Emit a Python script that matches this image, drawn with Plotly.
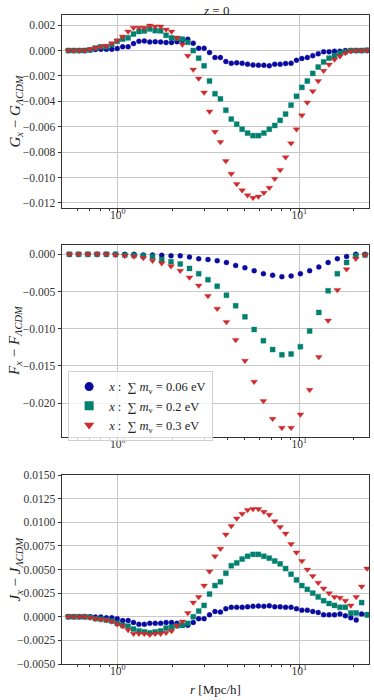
import plotly.graph_objects as go
from plotly.subplots import make_subplots

# radial bins [Mpc/h] for G and J (fine) and for F (coarse)
r_fine = [0.535, 0.573, 0.614, 0.657, 0.704, 0.754, 0.808, 0.866, 0.928, 0.994,
          1.065, 1.141, 1.222, 1.309, 1.402, 1.502, 1.609, 1.724, 1.847, 1.979,
          2.120, 2.271, 2.433, 2.606, 2.792, 2.991, 3.204, 3.433, 3.678, 3.940,
          4.221, 4.522, 4.844, 5.190, 5.560, 5.956, 6.381, 6.836, 7.323, 7.845,
          8.405, 9.004, 9.646, 10.33, 11.07, 11.86, 12.71, 13.61, 14.58, 15.62,
          16.74, 17.93, 19.21, 20.58, 22.04, 23.62]
r_coarse = [0.542, 0.609, 0.685, 0.770, 0.866, 0.973, 1.094, 1.230, 1.383, 1.555,
            1.748, 1.966, 2.210, 2.485, 2.793, 3.141, 3.531, 3.970, 4.463, 5.018,
            5.642, 6.343, 7.132, 8.018, 9.015, 10.14, 11.40, 12.81, 14.41, 16.20,
            18.21, 20.47, 23.02]

labels = ["<i>x</i> :  ∑ <i>m</i><sub>ν</sub> = 0.06 eV",
          "<i>x</i> :  ∑ <i>m</i><sub>ν</sub> = 0.2 eV",
          "<i>x</i> :  ∑ <i>m</i><sub>ν</sub> = 0.3 eV"]

G_006 = [0, 0, 0, 0, 0.00005, 0.00008, 0.0001, 0.0001, 0.0001, 0.00016,
         0.0003, 0.0003, 0.00055, 0.00073, 0.00076, 0.00068, 0.0007, 0.00068, 0.00063, 0.00063,
         0.0007, 0.0008, 0.00089, 0.00058, 0.00018, 0.00018, -0.00016, -0.00055, -0.00055, -0.00086,
         -0.001, -0.00097, -0.001, -0.00107, -0.00113, -0.00115, -0.00115, -0.0012, -0.00107, -0.00107,
         -0.00102, -0.001, -0.00076, -0.00063, -0.00055, -0.0004, -0.00026, -0.0001, -0.0001, -0.00005,
         -0.00005, 0, 0, 0, 0, 0]
G_02 = [0, 0, 0, 0, 0.00005, 0.0002, 0.0003, 0.0003, 0.00047, 0.00073,
        0.0009, 0.001, 0.0013, 0.0015, 0.00155, 0.0017, 0.00157, 0.00155, 0.0012, 0.001,
        0.00095, 0.0009, 0.00065, 0.0, -0.0006, -0.0012, -0.0024, -0.0034, -0.0038, -0.0047,
        -0.0054, -0.0058, -0.0062, -0.0065, -0.0067, -0.0067, -0.0065, -0.0062, -0.0059, -0.0055,
        -0.005, -0.0043, -0.0036, -0.0029, -0.0024, -0.0018, -0.0013, -0.0009, -0.0006, -0.0004,
        -0.0002, -0.0001, 0, 0, 0, 0.00003]
G_03 = [0, 0, 0, 0, 0.0001, 0.0002, 0.0003, 0.00037, 0.00058, 0.0008,
        0.0011, 0.0015, 0.0018, 0.0018, 0.0018, 0.00197, 0.0019, 0.0019, 0.00165, 0.0015,
        0.001, 0.00047, -0.0004, -0.0015, -0.0022, -0.0033, -0.0048, -0.0064, -0.0072, -0.0087,
        -0.0097, -0.0105, -0.011, -0.0114, -0.0116, -0.0115, -0.0112, -0.0108, -0.0101, -0.0094,
        -0.0084, -0.0073, -0.0062, -0.0051, -0.0041, -0.0032, -0.0024, -0.0016, -0.0011, -0.0007,
        -0.00045, -0.0002, -0.00005, 0, 0, 0]

F_006 = [0, 0, 0, 0, 0, 0, 0, 0, -0.0001, -0.0001,
         -0.00013, -0.0002, -0.0002, -0.00036, -0.0006, -0.0007, -0.00085, -0.0011, -0.0015, -0.0018,
         -0.0022, -0.0026, -0.0028, -0.003, -0.0029, -0.0026, -0.0022, -0.0017, -0.0011, -0.0006,
         -0.0003, 0, 0]
F_02 = [0, 0, 0, 0, 0, 0, -0.0001, -0.00013, -0.0002, -0.0003,
        -0.0007, -0.001, -0.0013, -0.0019, -0.0026, -0.0034, -0.0043, -0.0055, -0.0069, -0.0084,
        -0.0101, -0.0116, -0.0128, -0.0135, -0.0134, -0.0124, -0.0103, -0.0078, -0.0049, -0.0026,
        -0.0011, -0.0002, -0.0001]
F_03 = [0, 0, 0, 0, 0, -0.0001, -0.0002, -0.0003, -0.0005, -0.00085,
        -0.0012, -0.0016, -0.0022, -0.0031, -0.0042, -0.0056, -0.0073, -0.0091, -0.0115, -0.0143,
        -0.0171, -0.0197, -0.0221, -0.0233, -0.0233, -0.0215, -0.0182, -0.0138, -0.0089, -0.0048,
        -0.002, -0.0006, -0.0001]

J_006 = [0, 0, 0, 0, 0, -0.00003, -0.00003, -0.0001, -0.0001, -0.0002,
         -0.0004, -0.0004, -0.0006, -0.0008, -0.0008, -0.0007, -0.0007, -0.0007, -0.0006, -0.0006,
         -0.0007, -0.0009, -0.0009, -0.0006, -0.0002, -0.0002, 0.0002, 0.00056, 0.0005, 0.00085,
         0.001, 0.001, 0.001, 0.00105, 0.0011, 0.00113, 0.0011, 0.00116, 0.00105, 0.00105,
         0.001, 0.001, 0.00085, 0.0007, 0.0007, 0.00056, 0.00046, 0.0002, 0.0002, 0.0002,
         0.0003, 0.0001, -0.0001, -0.00035, 0.0003, 0.0002]
J_02 = [0, 0, 0, 0, -0.00003, -0.0002, -0.00025, -0.00035, -0.00045, -0.0007,
        -0.0009, -0.001, -0.0013, -0.0015, -0.0016, -0.0017, -0.0016, -0.0015, -0.0012, -0.0011,
        -0.00095, -0.0009, -0.0007, 0.0, 0.0006, 0.0012, 0.0024, 0.0033, 0.0037, 0.0046,
        0.0054, 0.0057, 0.0061, 0.0064, 0.0066, 0.0066, 0.0064, 0.0062, 0.0059, 0.0056,
        0.0051, 0.0045, 0.0039, 0.0033, 0.0029, 0.0025, 0.0021, 0.0017, 0.0014, 0.0012,
        0.001, 0.001, 0.0004, 0.0004, 0.0015, 0.0002]
J_03 = [0, 0, 0, 0, -0.0001, -0.0002, -0.00028, -0.00035, -0.0005, -0.0008,
        -0.001, -0.0014, -0.0018, -0.0018, -0.0018, -0.0019, -0.0018, -0.0018, -0.0017, -0.0015,
        -0.00095, -0.0005, 0.0004, 0.0015, 0.0021, 0.0033, 0.0048, 0.0064, 0.0072, 0.0087,
        0.0096, 0.0104, 0.0109, 0.0113, 0.0114, 0.0114, 0.0111, 0.0108, 0.0101, 0.0095,
        0.0088, 0.0077, 0.0068, 0.0059, 0.005, 0.0043, 0.0036, 0.003, 0.0025, 0.0021,
        0.002, 0.0017, 0.0012, 0.0021, 0.0032, 0.0051]

colors = ["#0a0aa0", "#00806e", "#cf2a2e"]
halos = ["rgba(10,10,160,0.35)", "rgba(0,128,110,0.35)", "rgba(207,42,46,0.35)"]
symbols = ["circle", "square", "triangle-down"]
sizes = [5, 5, 6]

FONT = "Liberation Serif, Times New Roman, serif"

fig = make_subplots(rows=3, cols=1)

panels = [
    (r_fine, [G_006, G_02, G_03]),
    (r_coarse, [F_006, F_02, F_03]),
    (r_fine, [J_006, J_02, J_03]),
]
for row, (rr, series) in enumerate(panels, start=1):
    for k, yy in enumerate(series):
        fig.add_trace(go.Scatter(
            x=rr, y=yy, mode="markers", showlegend=False,
            marker=dict(symbol=symbols[k], size=sizes[k], color=colors[k],
                        line=dict(color=halos[k], width=1)),
        ), row=row, col=1)

# legend entries (bigger symbols, like the matplotlib legend)
for k in range(3):
    fig.add_trace(go.Scatter(
        x=[None], y=[None], mode="markers", name=labels[k],
        marker=dict(symbol=symbols[k], size=9, color=colors[k]),
    ), row=2, col=1)

axis_common = dict(
    showline=True, mirror=True, linecolor="#333", linewidth=1,
    ticks="outside", ticklen=3.5, tickcolor="#333",
    showgrid=True, gridcolor="#c8c8c8", gridwidth=1,
    zeroline=False, automargin=False,
    tickfont=dict(family=FONT, size=11.5, color="#333"),
)
xaxis_common = dict(
    axis_common, type="log", range=[-0.3067, 1.3838],
    tickmode="array", tickvals=[1, 10], ticktext=["10<sup>0</sup>", "10<sup>1</sup>"],
    ticklabelstandoff=-7,
    minor=dict(tickmode="array", tickvals=[0.6, 0.7, 0.8, 0.9, 2, 3, 4, 5, 6, 7, 8, 9, 20],
               ticks="outside", ticklen=2, tickcolor="#333", showgrid=False),
)

fig.update_layout(
    width=374, height=700,
    margin=dict(l=62, r=5, t=15, b=36),
    paper_bgcolor="white", plot_bgcolor="white",
    font=dict(family=FONT, color="#222"),
    xaxis=dict(xaxis_common, anchor="y"),
    xaxis2=dict(xaxis_common, anchor="y2"),
    xaxis3=dict(xaxis_common, anchor="y3"),
    yaxis=dict(axis_common, domain=[0.7026, 1.0], range=[-0.0124, 0.0028],
               dtick=0.002, tick0=0, tickformat=".3f"),
    yaxis2=dict(axis_common, domain=[0.3502, 0.6456], range=[-0.0245, 0.00125],
                dtick=0.005, tick0=0, tickformat=".3f"),
    yaxis3=dict(axis_common, domain=[0.0, 0.2912], range=[-0.005, 0.015],
                dtick=0.0025, tick0=0, tickformat=".4f"),
    legend=dict(x=0.02, y=0.4515, xanchor="left", yanchor="top",
                bgcolor="rgba(255,255,255,0.8)", bordercolor="#d0d0d0", borderwidth=1,
                font=dict(family=FONT, size=12.5, color="#222"), tracegroupgap=0),
    showlegend=True,
)

ylabels = [
    ("<i>G<sub>x</sub></i> − <i>G<sub>ΛCDM</sub></i>", 0.8513),
    ("<i>F<sub>x</sub></i> − <i>F<sub>ΛCDM</sub></i>", 0.4979),
    ("<i>J<sub>x</sub></i> − <i>J<sub>ΛCDM</sub></i>", 0.1456),
]
for text, yc in ylabels:
    fig.add_annotation(text=text, xref="paper", yref="paper", x=-0.153, y=yc,
                       textangle=-90, showarrow=False, xanchor="center", yanchor="middle",
                       font=dict(family=FONT, size=15, color="#222"))

fig.add_annotation(text="<i>z</i> = 0", xref="paper", yref="paper", x=0.5, y=1.0077,
                   showarrow=False, xanchor="center", yanchor="middle",
                   font=dict(family=FONT, size=13, color="#222"))
fig.add_annotation(text="<i>r</i> [Mpc/h]", xref="paper", yref="paper", x=0.5, y=-0.040,
                   showarrow=False, xanchor="center", yanchor="middle",
                   font=dict(family=FONT, size=13, color="#222"))

# drop the default 8px page margin so the figure fills the window
fig.write_html("out.html", config={"displayModeBar": False},
               post_script="document.body.style.margin='0px';")
